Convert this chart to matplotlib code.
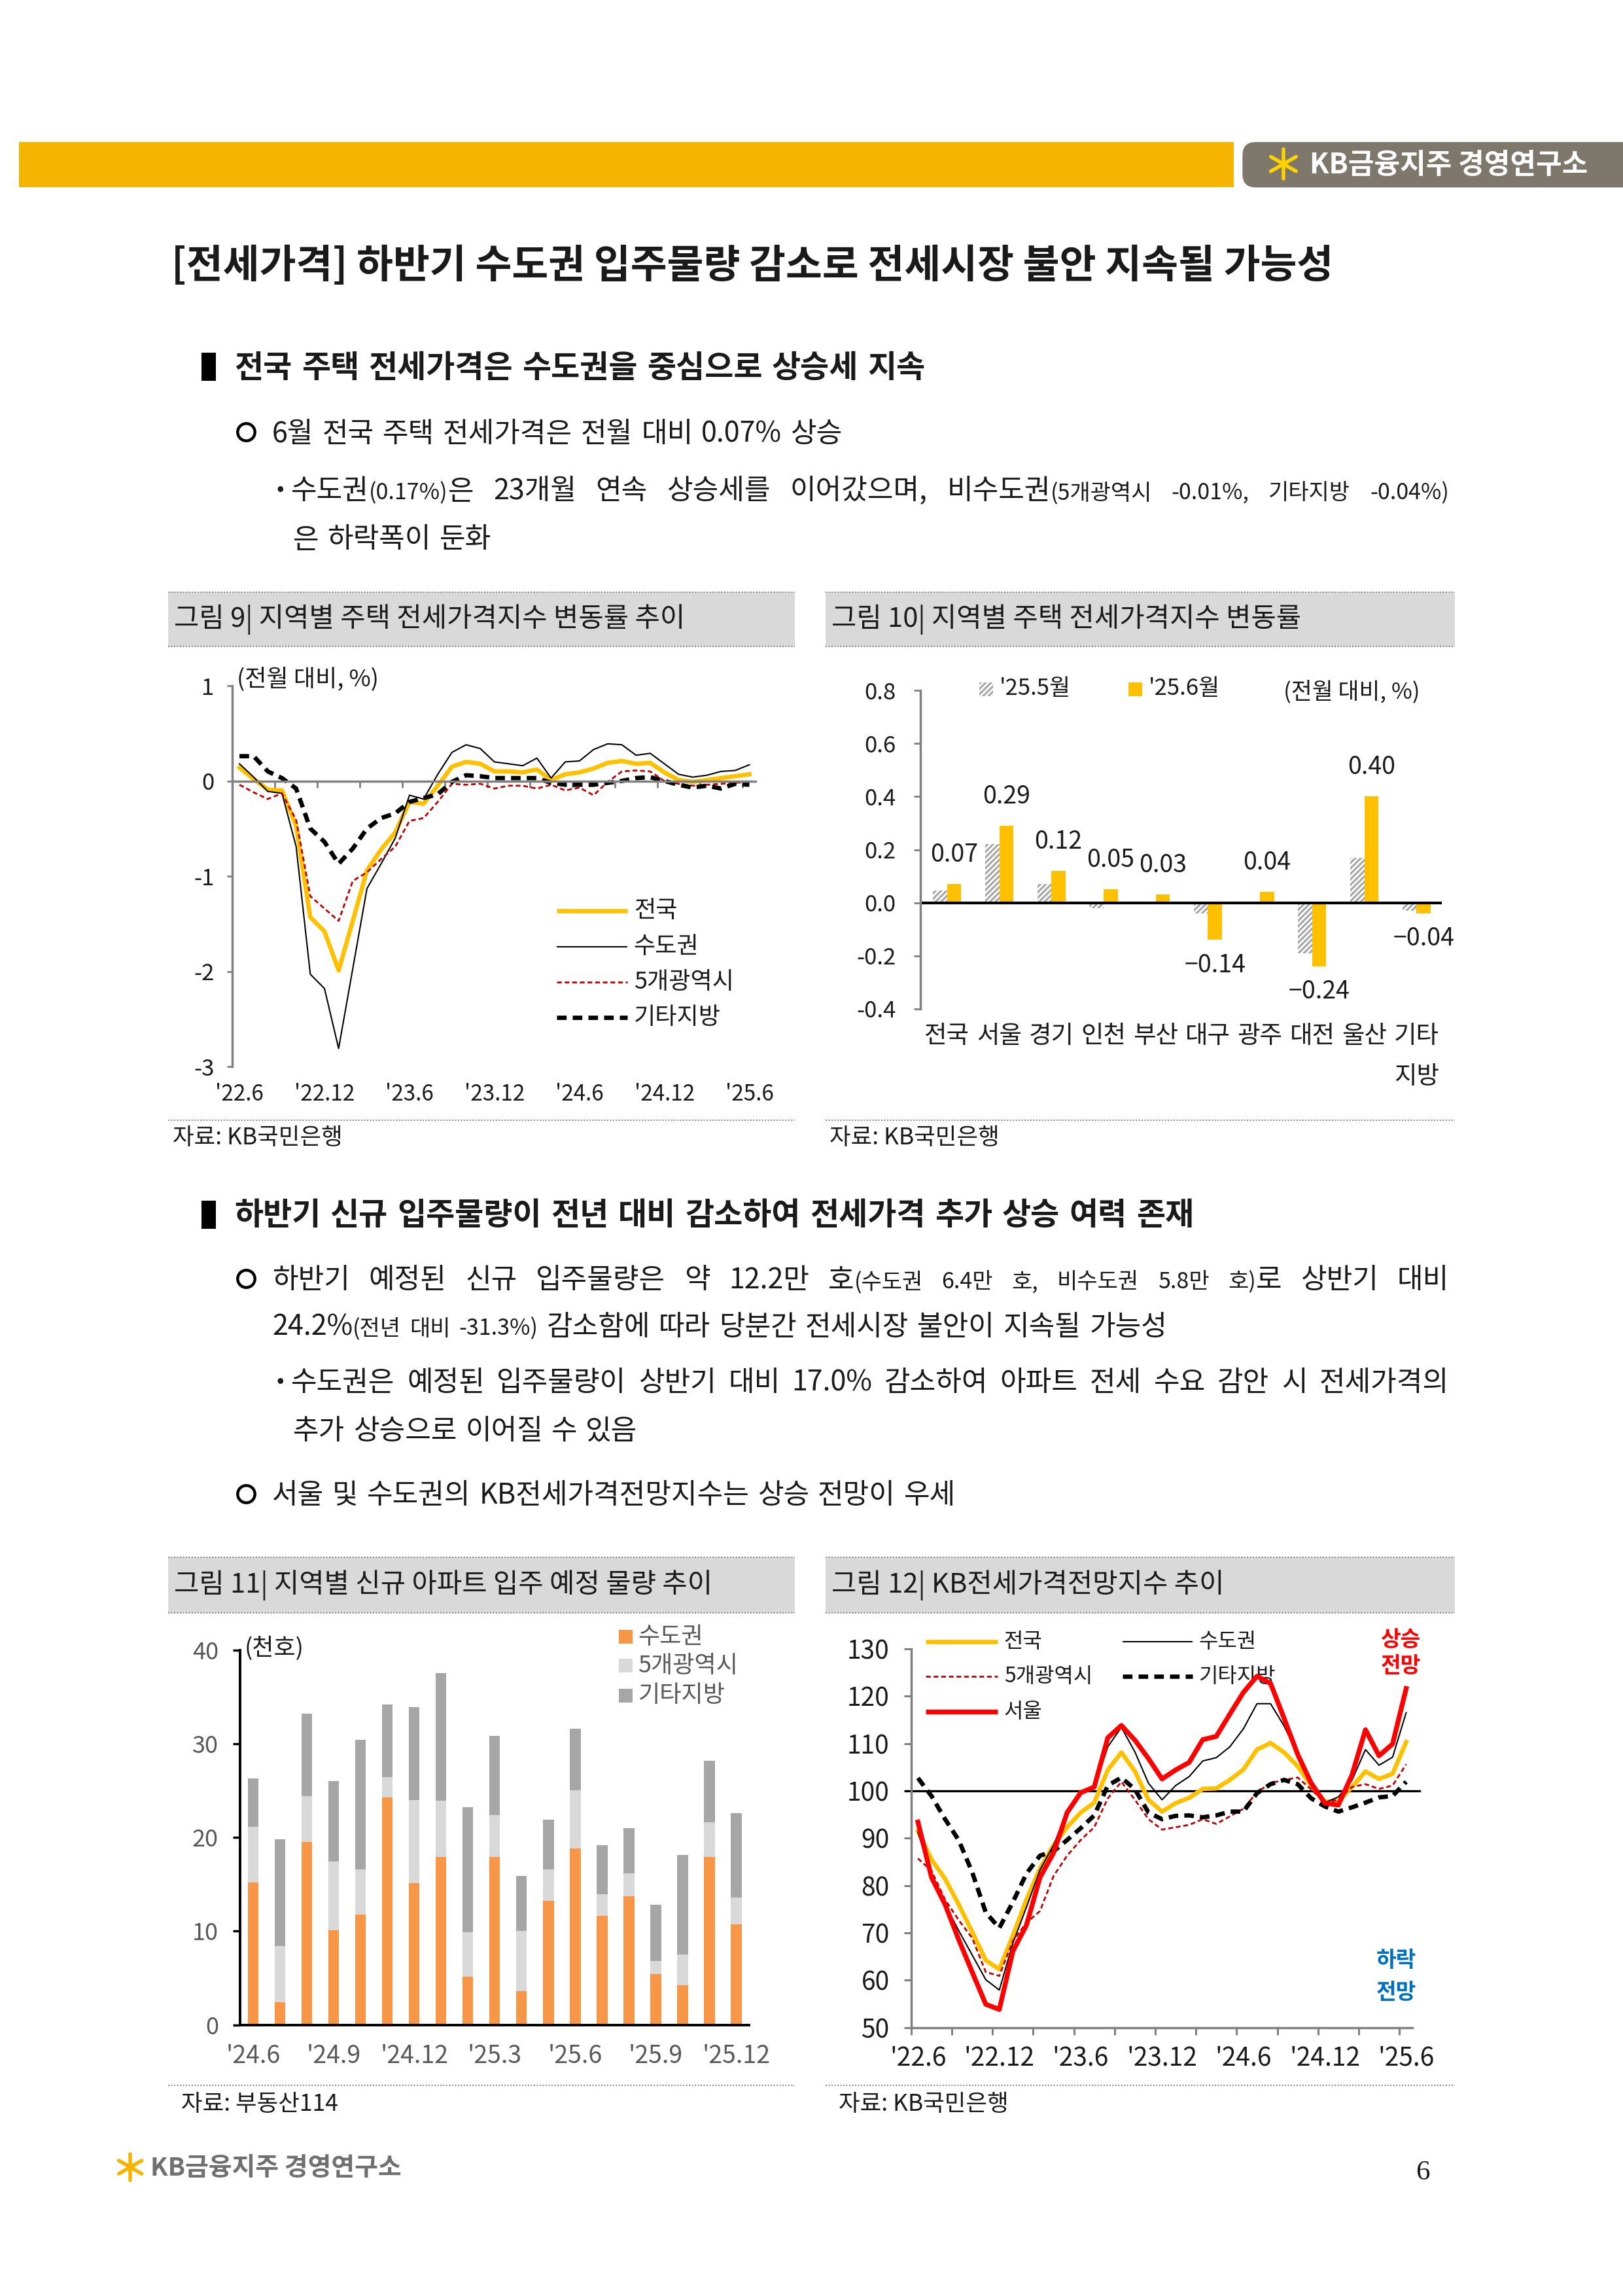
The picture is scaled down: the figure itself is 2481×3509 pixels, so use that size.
import matplotlib
matplotlib.use('Agg')
import matplotlib.pyplot as plt
from matplotlib.patches import Rectangle, FancyBboxPatch
import numpy as np

FONT = ['Noto Sans CJK KR', 'DejaVu Sans']
plt.rcParams['font.family'] = FONT
plt.rcParams['axes.unicode_minus'] = False
plt.rcParams['hatch.linewidth'] = 2.2

# ---------------- data ----------------
# fig 9: monthly change of jeonse price index (%), '22.6 ~ '25.6
lab9 = ["'22.6", "'22.12", "'23.6", "'23.12", "'24.6", "'24.12", "'25.6"]
chg_nation = [0.14, 0.02, -0.09, -0.10, -0.47, -1.43, -1.58, -1.99, -1.47, -0.94, -0.72, -0.54,
              -0.22, -0.24, -0.05, 0.15, 0.20, 0.18, 0.10, 0.10, 0.09, 0.12, 0.01, 0.07, 0.09,
              0.13, 0.19, 0.21, 0.18, 0.19, 0.09, 0.01, -0.01, 0.01, 0.03, 0.05, 0.07]
chg_capital = [0.18, 0.04, -0.11, -0.13, -0.69, -2.03, -2.18, -2.81, -1.97, -1.13, -0.87, -0.60,
               -0.15, -0.19, 0.07, 0.30, 0.38, 0.34, 0.20, 0.18, 0.16, 0.24, 0.03, 0.20, 0.21,
               0.33, 0.39, 0.38, 0.27, 0.29, 0.18, 0.07, 0.04, 0.06, 0.10, 0.11, 0.17]
chg_metro = [-0.04, -0.12, -0.19, -0.13, -0.41, -1.21, -1.34, -1.47, -1.05, -0.96, -0.82, -0.69,
             -0.42, -0.39, -0.22, -0.03, -0.04, -0.03, -0.08, -0.05, -0.05, -0.08, -0.04, -0.10,
             -0.07, -0.15, -0.01, 0.10, 0.11, 0.10, 0.00, -0.03, -0.05, -0.04, -0.03, -0.02, -0.01]
chg_other = [0.26, 0.26, 0.10, 0.03, -0.08, -0.50, -0.64, -0.87, -0.71, -0.50, -0.39, -0.34,
             -0.22, -0.18, -0.14, -0.01, 0.06, 0.05, 0.03, 0.03, 0.03, 0.03, -0.02, -0.04, -0.04,
             -0.04, -0.02, 0.00, 0.03, 0.04, 0.00, -0.04, -0.07, -0.05, -0.08, -0.03, -0.04]

# fig 10: change by region (%)
regions = ['전국', '서울', '경기', '인천', '부산', '대구', '광주', '대전', '울산', '기타\n지방']
chg_may = [0.045, 0.22, 0.07, -0.02, 0.005, -0.04, 0.002, -0.19, 0.17, -0.03]
chg_jun = [0.07, 0.29, 0.12, 0.05, 0.03, -0.14, 0.04, -0.24, 0.40, -0.04]

# fig 11: scheduled new apartment move-ins (thousand units), '24.6 ~ '25.12
lab11 = ["'24.6", "'24.7", "'24.8", "'24.9", "'24.10", "'24.11", "'24.12", "'25.1", "'25.2",
         "'25.3", "'25.4", "'25.5", "'25.6", "'25.7", "'25.8", "'25.9", "'25.10", "'25.11", "'25.12"]
sup_capital = [15.2, 2.4, 19.5, 10.1, 11.8, 24.3, 15.1, 17.9, 5.1, 17.9, 3.6, 13.2, 18.8,
               11.6, 13.7, 5.4, 4.2, 17.9, 10.7]
sup_metro = [5.9, 6.0, 4.9, 7.3, 4.8, 2.1, 8.9, 6.0, 4.8, 4.5, 6.4, 3.4, 6.2, 2.3, 2.5, 1.4, 3.3, 3.7, 2.9]
sup_other = [5.2, 11.4, 8.8, 8.6, 13.8, 7.8, 9.9, 13.6, 13.3, 8.4, 5.9, 5.3, 6.6, 5.3, 4.8, 6.0,
             10.6, 6.6, 9.0]

# fig 12: KB jeonse price outlook index, '22.6 ~ '25.6
out_nation = [91.5, 85.5, 81.4, 76.0, 70.2, 64.2, 62.3, 69.4, 77.0, 83.6, 88.5, 92.3, 95.4, 97.5,
              104.4, 108.1, 104.1, 98.1, 95.6, 97.4, 98.5, 100.4, 100.5, 102.3, 104.5, 108.7,
              110.1, 108.1, 105.2, 101.1, 97.7, 97.8, 100.8, 104.1, 102.5, 103.6, 110.3]
out_capital = [91.3, 82.0, 76.0, 70.5, 65.3, 60.1, 57.9, 67.8, 75.4, 83.3, 88.5, 95.6, 99.5, 100.5,
               109.3, 113.4, 108.2, 101.6, 98.1, 101.1, 103.0, 106.3, 107.0, 109.3, 113.1, 118.4,
               118.4, 113.7, 107.7, 101.6, 97.5, 98.7, 102.2, 108.7, 105.4, 107.1, 116.5]
out_metro = [85.7, 83.1, 77.0, 72.7, 68.9, 61.7, 60.9, 68.3, 72.1, 74.6, 82.0, 86.3, 89.6, 92.3,
             98.4, 101.9, 98.1, 94.0, 91.8, 92.3, 92.8, 94.0, 93.0, 94.6, 96.2, 99.7, 101.6,
             102.3, 102.8, 100.3, 97.5, 98.1, 100.8, 101.4, 100.4, 101.1, 105.6]
out_other = [102.7, 98.9, 94.0, 89.6, 82.8, 74.3, 71.0, 76.5, 82.5, 86.3, 87.2, 89.6, 92.1, 94.8,
             101.1, 102.8, 100.3, 95.4, 94.0, 94.7, 94.8, 94.4, 94.8, 95.6, 95.6, 99.5, 101.4,
             102.3, 101.4, 98.4, 96.7, 95.6, 96.5, 97.5, 98.6, 98.9, 101.9]
out_seoul = [93.4, 81.7, 76.0, 68.6, 61.7, 54.9, 53.8, 66.1, 71.6, 81.7, 86.9, 95.4, 99.6, 100.8,
             111.2, 113.8, 110.7, 106.8, 102.5, 104.4, 106.0, 110.8, 111.5, 116.2, 120.8, 124.2,
             122.7, 115.3, 107.7, 101.6, 97.4, 97.0, 103.3, 112.9, 107.4, 109.9, 121.6]

# ---------------- styles ----------------
INK = '#1a1a1a'
GRAY = '#808080'
YEL = '#FFC000'
RED = '#FF0000'
DRED = '#C00000'
ORANGE = '#F79646'
LGRAY = '#D9D9D9'
DGRAY = '#A6A6A6'
TXTGRAY = '#595959'
BLUE = '#0070C0'

ST = {
    '전국': dict(color=YEL, lw=4.8),
    '수도권': dict(color='black', lw=1.5),
    '5개광역시': dict(color=DRED, lw=2.0, ls=(0, (2.6, 1.6))),
    '기타지방': dict(color='black', lw=4.8, ls=(0, (2.2, 1.4))),
    '서울': dict(color=RED, lw=5.3),
}

# page layout in units of the 1109 x 1568 page
W, H = 1109, 1568
SC = 2481 / W
PT = SC * 72 / 100

fig = plt.figure(figsize=(24.81, 35.09), dpi=100)
page = fig.add_axes([0, 0, 1, 1])
page.set_xlim(0, W)
page.set_ylim(H, 0)
page.axis('off')
rend = fig.canvas.get_renderer()


def text_w(s, fs, weight):
    t = page.text(0, 0, s, fontsize=fs, fontweight=weight)
    w = t.get_window_extent(renderer=rend).width / SC
    t.remove()
    return w


def write(x0, y, parts, x1=None, weight='normal', color=INK):
    toks = []
    for s, fs in parts:
        for k, word in enumerate(s.split(' ')):
            if word:
                toks.append((word, fs, k == 0))
    widths = [text_w(w, fs, weight) for w, fs, _ in toks]
    n = sum(1 for t in toks[1:] if not t[2])
    big = max(fs for _, fs in parts)
    gap = 0.3 * big / PT
    if x1 is not None and n:
        gap = (x1 - x0 - sum(widths)) / n
    base = y + 0.36 * big / PT
    x = x0
    for i, ((w, fs, glue), wd) in enumerate(zip(toks, widths)):
        if i > 0 and not glue:
            x += gap
        page.text(x, base, w, fontsize=fs, fontweight=weight, color=color,
                  va='baseline', ha='left')
        x += wd


def dotted(x0, x1, y):
    page.plot([x0, x1], [y, y], color=GRAY, lw=1.4, ls=(0, (1, 1.3)))


def circle(x, y):
    page.plot([x], [y], marker='o', ms=19, mfc='white', mec='black', mew=3.2)


def star(x, y, r, color):
    for a in (90, 30, 150):
        t = np.deg2rad(a)
        page.plot([x - r * np.cos(t), x + r * np.cos(t)], [y - r * np.sin(t), y + r * np.sin(t)],
                  color=color, lw=4, solid_capstyle='round')


def chart_ax(x0, y0, x1, y1):
    ax = fig.add_axes([x0 / W, 1 - y1 / H, (x1 - x0) / W, (y1 - y0) / H])
    ax.set_facecolor('none')
    for s in ['top', 'right']:
        ax.spines[s].set_visible(False)
    return ax


def leg_line(x0, x1, y, label, fs, tx, style):
    page.plot([x0, x1], [y, y], solid_capstyle='butt', dash_capstyle='butt', **style)
    page.text(tx, y, label, fontsize=fs, va='center', color=INK)


BF, SF = 31, 24.5

# ---------------- header ----------------
page.add_patch(Rectangle((13, 97), 830, 31, color='#F5B400', lw=0))
page.add_patch(FancyBboxPatch((849, 97), 290, 31, boxstyle='round,pad=0,rounding_size=9',
                              color='#7E776C', lw=0))
star(877, 112, 10, '#FFD200')
page.text(895, 112.5, 'KB금융지주 경영연구소', fontsize=31, fontweight='bold', color='white',
          va='center')

page.text(117, 182, '[전세가격] 하반기 수도권 입주물량 감소로 전세시장 불안 지속될 가능성',
          fontsize=43.7, fontweight='bold', va='center', color=INK)

# ---------------- section 1 ----------------
page.add_patch(Rectangle((137.5, 241), 10, 19, color='black', lw=0))
write(160, 250, [('전국 주택 전세가격은 수도권을 중심으로 상승세 지속', 34.5)], weight='bold')
circle(168, 295)
write(186, 295, [('6월 전국 주택 전세가격은 전월 대비 0.07% 상승', BF)])
page.text(189, 334, '•', fontsize=25, va='center', color=INK)
write(199, 334, [('수도권', BF), ('(0.17%)', SF), ('은 23개월 연속 상승세를 이어갔으며, 비수도권', BF),
                 ('(5개광역시 -0.01%, 기타지방 -0.04%)', SF)], x1=990)
write(200, 367, [('은 하락폭이 둔화', BF)])

# chart title boxes
for x0, x1, y0, y1, label in [(115, 543, 404.5, 441.7, '그림 9| 지역별 주택 전세가격지수 변동률 추이'),
                              (564, 994, 404.5, 441.7, '그림 10| 지역별 주택 전세가격지수 변동률'),
                              (115, 543, 1063.5, 1101.5, '그림 11| 지역별 신규 아파트 입주 예정 물량 추이'),
                              (564, 994, 1063.5, 1101.5, '그림 12| KB전세가격전망지수 추이')]:
    page.add_patch(Rectangle((x0, y0), x1 - x0, y1 - y0, color=LGRAY, lw=0))
    dotted(x0, x1, y0)
    dotted(x0, x1, y1)
    page.text(x0 + 4, (y0 + y1) / 2, label, fontsize=30, va='center', color=INK)

for x0, x1 in [(115, 543), (564, 994)]:
    dotted(x0, x1, 765)
    dotted(x0, x1, 1424)
page.text(118, 777, '자료: KB국민은행', fontsize=25.5, va='center', color=INK)
page.text(567, 777, '자료: KB국민은행', fontsize=25.5, va='center', color=INK)
page.text(124, 1437, '자료: 부동산114', fontsize=25.5, va='center', color=INK)
page.text(573, 1437, '자료: KB국민은행', fontsize=25.5, va='center', color=INK)

# ---------------- fig 9 ----------------
ax9 = chart_ax(158.8, 468.3, 516.4, 728.4)
x37 = np.arange(len(chg_nation))
ax9.plot(x37, chg_nation, **ST['전국'])
ax9.plot(x37, chg_capital, **ST['수도권'])
ax9.plot(x37, chg_metro, **ST['5개광역시'])
ax9.plot(x37, chg_other, **ST['기타지방'])
ax9.set_xlim(-0.5, 36.45)
ax9.set_ylim(-3, 1)
ax9.spines['left'].set_color(GRAY)
ax9.spines['left'].set_linewidth(2.5)
ax9.spines['bottom'].set_position(('data', 0))
ax9.spines['bottom'].set_color(GRAY)
ax9.spines['bottom'].set_linewidth(2.5)
ax9.set_yticks([1, 0, -1, -2, -3])
ax9.set_yticklabels(['1', '0', '-1', '-2', '-3'])
ax9.tick_params(axis='y', length=6, width=2, color=GRAY, pad=14, labelsize=25, labelcolor=INK)
ax9.set_xticks(np.arange(2.5, 36, 3))
ax9.tick_params(axis='x', length=7, width=2, color=GRAY, labelbottom=False)
for k, lab in zip(range(0, 37, 6), lab9):
    ax9.text(k, -(747.5 - 728.4) / (728.4 - 468.3), lab, transform=ax9.get_xaxis_transform(),
             ha='center', va='center', fontsize=24, color=INK)
page.text(162, 464, '(전월 대비, %)', fontsize=26, va='center', color=INK)
for y, name in zip([622, 646.5, 670.5, 695], ['전국', '수도권', '5개광역시', '기타지방']):
    leg_line(380.5, 428.5, y, name, 26, 433, ST[name])

# ---------------- fig 10 ----------------
ax10 = chart_ax(629, 471.5, 985, 689)
xr = np.arange(len(regions))
bw = 0.27
ax10.bar(xr - bw / 2, chg_may, bw, color='white', edgecolor=DGRAY, hatch='////', lw=0)
ax10.bar(xr + bw / 2, chg_jun, bw, color=YEL, lw=0)
ax10.axhline(0, color='black', lw=3)
for xi, v in zip(xr, chg_jun):
    ax10.annotate(f'{v:.2f}'.replace('-', '\u2212'), (xi + bw / 2, v),
                  xytext=(0, 18 if v >= 0 else -14), textcoords='offset points', ha='center',
                  va='bottom' if v >= 0 else 'top', fontsize=27, color=INK)
ax10.set_xlim(-0.51, 9.48)
ax10.set_ylim(-0.4, 0.8)
ax10.spines['bottom'].set_visible(False)
ax10.spines['left'].set_color(GRAY)
ax10.spines['left'].set_linewidth(2.5)
yt10 = [-0.4, -0.2, 0.0, 0.2, 0.4, 0.6, 0.8]
ax10.set_yticks(yt10)
ax10.set_yticklabels([f'{v:.1f}' for v in yt10])
ax10.tick_params(axis='y', length=7, width=2, color=GRAY, pad=20, labelsize=25, labelcolor=INK)
ax10.set_xticks([])
for xi, lab in zip(xr, regions):
    ax10.text(xi, -(699 - 689) / (689 - 471.5), lab, transform=ax10.get_xaxis_transform(),
              ha='center', va='top', fontsize=27, color=INK, linespacing=1.75)
page.add_patch(Rectangle((669.3, 466), 9.4, 9.5, facecolor='white', edgecolor=DGRAY,
                         hatch='////', lw=0))
page.text(683, 470.5, "'25.5월", fontsize=25, va='center', color=INK)
page.add_patch(Rectangle((771.2, 466), 9.4, 9.5, color=YEL, lw=0))
page.text(785, 470.5, "'25.6월", fontsize=25, va='center', color=INK)
page.text(877, 472.5, '(전월 대비, %)', fontsize=25, va='center', color=INK)

# ---------------- section 2 ----------------
page.add_patch(Rectangle((137.5, 820), 10, 19, color='black', lw=0))
write(160, 829, [('하반기 신규 입주물량이 전년 대비 감소하여 전세가격 추가 상승 여력 존재', 34.5)],
      weight='bold')
circle(168, 873)
write(186, 873, [('하반기 예정된 신규 입주물량은 약 12.2만 호', BF), ('(수도권 6.4만 호, 비수도권 5.8만 호)', SF),
                 ('로 상반기 대비', BF)], x1=990)
write(186, 905, [('24.2%', BF), ('(전년 대비 -31.3%)', SF),
                 (' 감소함에 따라 당분간 전세시장 불안이 지속될 가능성', BF)])
page.text(189, 943, '•', fontsize=25, va='center', color=INK)
write(199, 943, [('수도권은 예정된 입주물량이 상반기 대비 17.0% 감소하여 아파트 전세 수요 감안 시 전세가격의', BF)],
      x1=990)
write(200, 976, [('추가 상승으로 이어질 수 있음', BF)])
circle(168, 1020)
write(186, 1020, [('서울 및 수도권의 KB전세가격전망지수는 상승 전망이 우세', BF)])

# ---------------- fig 11 ----------------
ax11 = chart_ax(164.2, 1126.8, 511.7, 1382.8)
xs = np.arange(len(sup_capital))
ax11.bar(xs, sup_capital, 0.4, color=ORANGE, lw=0)
ax11.bar(xs, sup_metro, 0.4, bottom=sup_capital, color=LGRAY, lw=0)
ax11.bar(xs, sup_other, 0.4, bottom=np.add(sup_capital, sup_metro), color=DGRAY, lw=0)
ax11.set_xlim(-0.48, 18.47)
ax11.set_ylim(0, 40)
for s in ['left', 'bottom']:
    ax11.spines[s].set_color('black')
    ax11.spines[s].set_linewidth(2.8)
ax11.set_yticks([0, 10, 20, 30, 40])
ax11.tick_params(axis='y', length=8, width=2.5, color='black', pad=16, labelsize=26,
                 labelcolor=TXTGRAY)
ax11.set_xticks([])
for k in range(0, len(lab11), 3):
    ax11.text(k, -(1404.4 - 1382.8) / (1382.8 - 1126.8), lab11[k],
              transform=ax11.get_xaxis_transform(), ha='center', va='center', fontsize=27,
              color=TXTGRAY)
page.text(167, 1126, '(천호)', fontsize=26, va='center', color=INK)
for y, c, name in zip([1118, 1137.5, 1158], [ORANGE, LGRAY, DGRAY], ['수도권', '5개광역시', '기타지방']):
    page.add_patch(Rectangle((423, y - 4.7), 9.4, 9.4, color=c, lw=0))
    page.text(436, y, name, fontsize=26, va='center', color=TXTGRAY)

# ---------------- fig 12 ----------------
ax12 = chart_ax(622.6, 1126, 965, 1384.6)
ax12.axhline(100, xmin=-0.012, xmax=1.015, color='black', lw=2.4, clip_on=False)
ax12.plot(x37, out_nation, **ST['전국'])
ax12.plot(x37, out_capital, **ST['수도권'])
ax12.plot(x37, out_metro, **ST['5개광역시'])
ax12.plot(x37, out_other, **ST['기타지방'])
ax12.plot(x37, out_seoul, **ST['서울'])
ax12.set_xlim(-0.5, 36.45)
ax12.set_ylim(50, 130)
for s in ['left', 'bottom']:
    ax12.spines[s].set_color(GRAY)
    ax12.spines[s].set_linewidth(2.5)
ax12.set_yticks(np.arange(50, 131, 10))
ax12.tick_params(axis='y', length=8, width=2.2, color=GRAY, pad=16, labelsize=28, labelcolor=INK)
ax12.set_xticks(np.arange(-0.5, 36, 3))
ax12.tick_params(axis='x', length=8, width=2.2, color=GRAY, labelbottom=False)
for k, lab in zip(range(0, 37, 6), lab9):
    ax12.text(k, -(1405.5 - 1384.6) / (1384.6 - 1126), lab, transform=ax12.get_xaxis_transform(),
              ha='center', va='center', fontsize=28, color=INK)
leg_line(632.5, 681.5, 1121, '전국', 23, 686, ST['전국'])
leg_line(632.5, 681.5, 1145, '5개광역시', 23, 686, ST['5개광역시'])
leg_line(632.5, 681.5, 1169, '서울', 23, 686, ST['서울'])
leg_line(767, 815, 1121, '수도권', 23, 819, ST['수도권'])
leg_line(767, 815, 1145, '기타지방', 23, 819, ST['기타지방'])
page.text(957, 1120, '상승', fontsize=24, fontweight='bold', color=RED, ha='center', va='center')
page.text(957, 1138, '전망', fontsize=24, fontweight='bold', color=RED, ha='center', va='center')
page.text(954, 1339, '하락', fontsize=24, fontweight='bold', color=BLUE, ha='center', va='center')
page.text(954, 1361, '전망', fontsize=24, fontweight='bold', color=BLUE, ha='center', va='center')

# ---------------- footer ----------------
star(89, 1480, 9, '#F5B400')
page.text(103, 1480.5, 'KB금융지주 경영연구소', fontsize=28, fontweight='bold', color='#707070',
          va='center')
page.text(972, 1484, '6', fontsize=31, family='Liberation Serif', ha='center', va='center',
          color=INK)

fig.savefig('out.png', dpi=100, facecolor='white')
